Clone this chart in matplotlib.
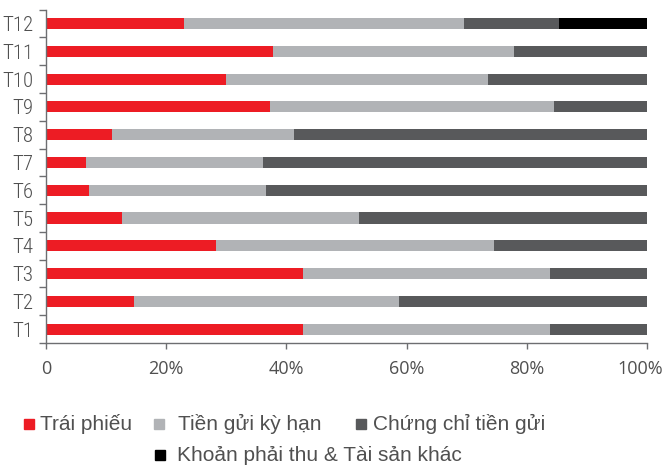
import numpy as np
import matplotlib.pyplot as plt
from matplotlib.patches import Rectangle
from matplotlib.transforms import ScaledTranslation

plt.rcParams['font.family'] = ['Liberation Sans', 'DejaVu Sans']

months = ["T1", "T2", "T3", "T4", "T5", "T6", "T7", "T8", "T9", "T10", "T11", "T12"]
trai_phieu = [42.8, 14.7, 42.8, 28.3, 12.7, 7.2, 6.7, 10.9, 37.3, 30.0, 37.8, 23.0]
tien_gui = [41.1, 44.1, 41.1, 46.3, 39.3, 29.4, 29.4, 30.3, 47.2, 43.6, 40.1, 46.6]
chung_chi = [16.1, 41.2, 16.1, 25.4, 48.0, 63.4, 63.9, 58.8, 15.5, 26.4, 22.1, 15.8]
khoan_khac = [0, 0, 0, 0, 0, 0, 0, 0, 0, 0, 0, 14.6]

labels = ["Trái phiếu", "Tiền gửi kỳ hạn", "Chứng chỉ tiền gửi",
          "Khoản phải thu & Tài sản khác"]
colors = ["#ED1C24", "#B1B3B6", "#58595B", "#000000"]

W, H = 670, 468
fig = plt.figure(figsize=(W / 100, H / 100), dpi=100)
ax = fig.add_axes([0.0687, 0.267, 0.8970, 0.7125])

y = np.arange(len(months))
left = np.zeros(len(months))
for vals, c in zip([trai_phieu, tien_gui, chung_chi, khoan_khac], colors):
    ax.barh(y, vals, left=left, height=0.4, color=c)
    left += np.array(vals)

ax.set_xlim(0, 100)
ax.set_ylim(-0.5, 11.5)
ax.set_xticks([0, 20, 40, 60, 80, 100])
ax.set_xticklabels(["0", "20%", "40%", "60%", "80%", "100%"],
                   family=['Open Sans', 'DejaVu Sans'], fontsize=13, color='#505050')
ax.set_yticks(y)
ax.set_yticklabels(months, family=['Roboto Condensed', 'DejaVu Sans'],
                   fontsize=15, weight='light', color='#505050')
ax.set_yticks(np.arange(-0.5, 12, 1), minor=True)
ax.tick_params(axis='y', which='major', length=0, pad=9)
ax.tick_params(axis='y', which='minor', length=5, width=1, color='#6d6e71')
ax.tick_params(axis='x', length=4, width=1, color='#6d6e71', pad=8)
last = ax.get_xticklabels()[-1]
last.set_transform(last.get_transform() + ScaledTranslation(-5 / 72, 0, fig.dpi_scale_trans))
for s in ['top', 'right']:
    ax.spines[s].set_visible(False)
for s in ['left', 'bottom']:
    ax.spines[s].set_color('#6d6e71')
    ax.spines[s].set_linewidth(1)

# legend drawn by hand: square + label, two rows
legend_pos = [(24, 40, 430), (154, 178, 430), (356, 373, 430), (155, 177, 461)]
for (sx, tx, base), c, lab in zip(legend_pos, colors, labels):
    fig.add_artist(Rectangle((sx / W, (H - base + 1) / H), 10 / W, 10 / H,
                             transform=fig.transFigure, color=c))
    fig.text(tx / W, (H - base) / H, lab, fontsize=15, color='#505050',
             va='baseline', ha='left')

fig.savefig("out.png", dpi=100)
